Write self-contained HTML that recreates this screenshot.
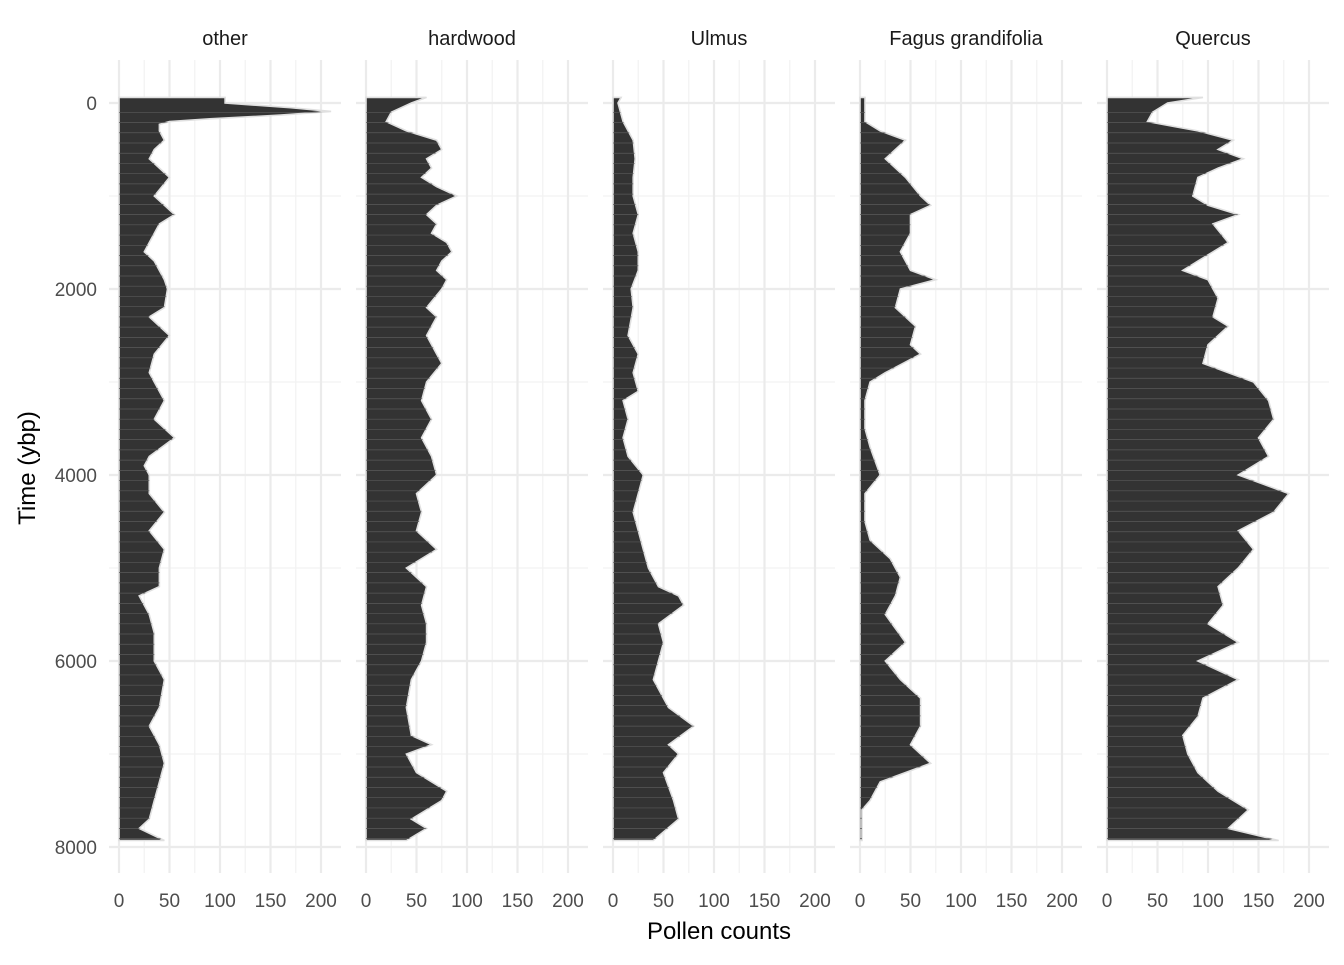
<!DOCTYPE html>
<html><head><meta charset="utf-8"><style>
html,body{margin:0;padding:0;background:#fff;}
svg text{font-family:"Liberation Sans",sans-serif;}
</style></head><body>
<svg id="s" width="1344" height="960" xmlns="http://www.w3.org/2000/svg"></svg>
<script>
const D={
other:[[-60,105],[0,105],[50,170],[90,210],[130,160],[170,90],[200,50],[230,40],[300,40],[400,45],[500,35],[600,30],[700,40],[800,50],[1000,35],[1100,45],[1200,55],[1300,40],[1500,30],[1600,25],[1700,35],[1900,45],[2000,48],[2200,45],[2300,30],[2500,50],[2700,35],[2900,30],[3000,35],[3200,45],[3400,35],[3600,55],[3800,30],[3900,25],[4000,30],[4200,30],[4400,45],[4600,30],[4800,45],[5000,40],[5200,40],[5300,20],[5500,30],[5700,35],[6000,35],[6200,45],[6500,40],[6700,30],[6900,40],[7100,45],[7300,40],[7500,35],[7700,30],[7800,20],[7930,45]],
hardwood:[[-60,60],[0,45],[100,25],[200,20],[300,40],[400,70],[500,75],[600,60],[700,65],[800,55],[900,70],[1000,90],[1100,70],[1200,60],[1300,70],[1400,65],[1500,80],[1600,85],[1700,75],[1800,70],[1900,80],[2000,75],[2200,60],[2300,70],[2500,60],[2700,70],[2800,75],[3000,60],[3200,55],[3400,65],[3600,55],[3800,65],[4000,70],[4200,50],[4400,55],[4600,50],[4800,70],[5000,40],[5200,60],[5400,55],[5600,60],[5800,60],[6000,55],[6200,45],[6500,40],[6800,45],[6900,65],[7000,40],[7200,50],[7400,80],[7500,75],[7700,45],[7800,60],[7930,40]],
Ulmus:[[-60,8],[0,5],[200,10],[400,20],[600,22],[800,20],[1000,20],[1200,25],[1400,20],[1600,25],[1800,25],[2000,18],[2200,20],[2500,15],[2700,25],[2900,20],[3100,25],[3200,10],[3400,15],[3600,10],[3800,15],[4000,30],[4200,25],[4400,20],[4600,25],[4800,30],[5000,35],[5200,45],[5300,65],[5400,70],[5600,45],[5800,50],[6000,45],[6200,40],[6500,55],[6700,80],[6900,55],[7000,65],[7200,50],[7500,60],[7700,65],[7930,40]],
"Fagus grandifolia":[[-60,5],[0,5],[200,5],[300,20],[400,45],[600,25],[800,45],[1000,60],[1100,70],[1200,50],[1400,50],[1600,40],[1800,50],[1900,75],[2000,40],[2200,35],[2400,55],[2600,50],[2700,60],[2900,25],[3000,10],[3200,5],[3500,5],[3700,10],[4000,20],[4200,5],[4500,5],[4700,10],[4900,30],[5100,40],[5300,35],[5500,25],[5800,45],[6000,25],[6200,40],[6400,60],[6700,60],[6900,50],[7100,70],[7300,20],[7500,10],[7600,2],[7930,2]],
Quercus:[[-60,95],[0,60],[100,45],[200,40],[300,90],[400,125],[500,110],[600,135],[700,110],[800,90],[1000,85],[1100,100],[1200,130],[1300,105],[1500,120],[1700,90],[1800,75],[1900,100],[2100,110],[2300,105],[2400,120],[2600,100],[2800,95],[3000,145],[3200,160],[3400,165],[3600,150],[3800,160],[4000,130],[4200,180],[4400,165],[4600,130],[4800,145],[5000,130],[5200,110],[5400,115],[5600,100],[5800,130],[6000,90],[6200,130],[6400,95],[6600,90],[6800,75],[7000,80],[7200,90],[7400,110],[7600,140],[7800,120],[7930,170]]};
const Y=t=>103+t*0.093;
let h='';
const names=Object.keys(D);
names.forEach((n,i)=>{
 const x0=119+i*247, X=v=>x0+v*1.01;
 for(let v=25;v<=200;v+=50) h+=`<line x1="${X(v)}" x2="${X(v)}" y1="60" y2="873" stroke="#f2f2f2" stroke-width="1.2"/>`;
 for(let t=1000;t<=7000;t+=2000) h+=`<line x1="${x0-10}" x2="${x0+222}" y1="${Y(t)}" y2="${Y(t)}" stroke="#f2f2f2" stroke-width="1.2"/>`;
 for(let v=0;v<=200;v+=50) h+=`<line x1="${X(v)}" x2="${X(v)}" y1="60" y2="873" stroke="#ebebeb" stroke-width="2.2"/>`;
 for(let t=0;t<=8000;t+=2000) h+=`<line x1="${x0-10}" x2="${x0+222}" y1="${Y(t)}" y2="${Y(t)}" stroke="#ebebeb" stroke-width="2.2"/>`;
 let p=`${X(0)},${Y(-60)} `+D[n].map(d=>`${X(d[1]).toFixed(1)},${Y(d[0]).toFixed(1)}`).join(' ')+` ${X(0)},${Y(7930)}`;
 h+=`<clipPath id="c${i}"><polygon points="${p}"/></clipPath>`;
 h+=`<polygon points="${p}" fill="#333" stroke="#e0e0e0" stroke-width="1.6"/>`;
 let g=`<g clip-path="url(#c${i})">`;
 for(let t=100;t<7930;t+=110) g+=`<line x1="${X(0)}" x2="${X(220)}" y1="${Y(t)}" y2="${Y(t)}" stroke="#5a5a5a" stroke-width="0.7"/>`;
 h+=g+'</g>';
 h+=`<text x="${x0+106}" y="45" font-size="20" fill="#1a1a1a" text-anchor="middle">${n}</text>`;
 for(let v=0;v<=200;v+=50) h+=`<text x="${X(v)}" y="907" font-size="19" fill="#4d4d4d" text-anchor="middle">${v}</text>`;
});
for(let t=0;t<=8000;t+=2000) h+=`<text x="97" y="${Y(t)+7}" font-size="19" fill="#4d4d4d" text-anchor="end">${t}</text>`;
h+=`<text x="719" y="939" font-size="24" fill="#000" text-anchor="middle">Pollen counts</text>`;
h+=`<text transform="translate(35,468) rotate(-90)" font-size="24" fill="#000" text-anchor="middle">Time (ybp)</text>`;
document.getElementById('s').innerHTML=h;
</script>
</body></html>
